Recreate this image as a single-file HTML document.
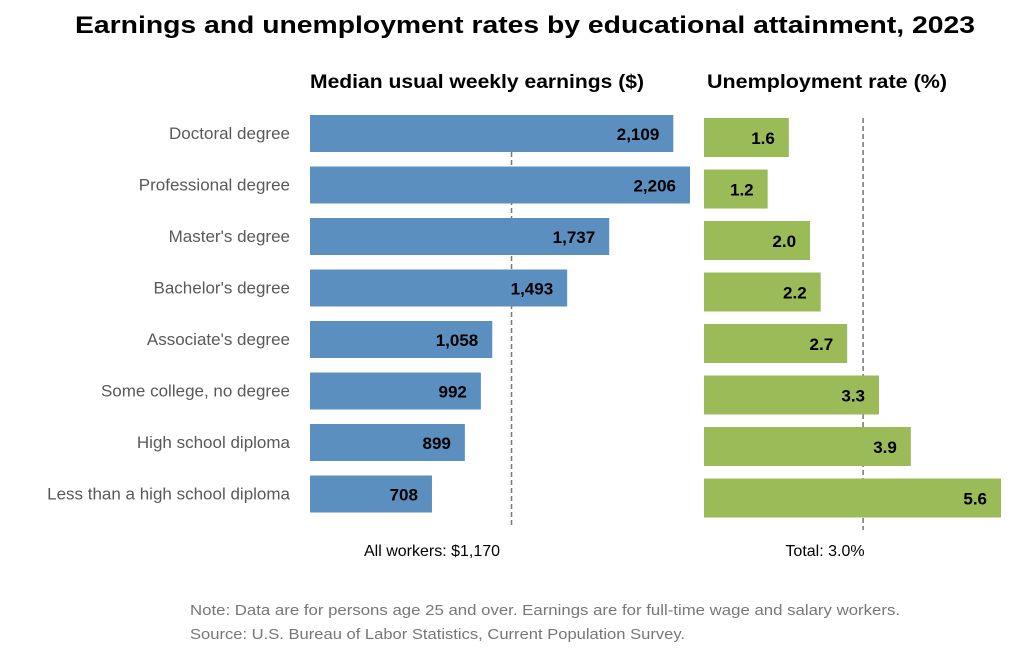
<!DOCTYPE html>
<html><head><meta charset="utf-8"><style>
body{margin:0;background:#fff;}
svg text{font-family:"Liberation Sans",sans-serif;}
</style></head><body>
<svg width="1027" height="645" viewBox="0 0 1027 645" xmlns="http://www.w3.org/2000/svg">
<text x="525" y="33" text-anchor="middle" font-size="24" font-weight="bold" fill="#000" textLength="900" lengthAdjust="spacingAndGlyphs">Earnings and unemployment rates by educational attainment, 2023</text>
<text x="477" y="88" text-anchor="middle" font-size="19" font-weight="bold" textLength="334" lengthAdjust="spacingAndGlyphs">Median usual weekly earnings ($)</text>
<text x="827" y="88" text-anchor="middle" font-size="19" font-weight="bold" textLength="240" lengthAdjust="spacingAndGlyphs">Unemployment rate (%)</text>
<g id="cats"></g><g id="earn"></g><g id="unemp"></g>
<text x="432" y="556" text-anchor="middle" font-size="16" fill="#000">All workers: $1,170</text>
<text x="825" y="556" text-anchor="middle" font-size="16" fill="#000">Total: 3.0%</text>
<text x="190" y="615" font-size="14.5" fill="#777" textLength="710" lengthAdjust="spacingAndGlyphs">Note: Data are for persons age 25 and over. Earnings are for full-time wage and salary workers.</text>
<text x="190" y="639" font-size="14.5" fill="#777" textLength="495" lengthAdjust="spacingAndGlyphs">Source: U.S. Bureau of Labor Statistics, Current Population Survey.</text>
</svg>
<script>
const categories=["Doctoral degree","Professional degree","Master's degree","Bachelor's degree","Associate's degree","Some college, no degree","High school diploma","Less than a high school diploma"];
const earnings=[2109,2206,1737,1493,1058,992,899,708];
const unemployment=[1.6,1.2,2.0,2.2,2.7,3.3,3.9,5.6];
const earningsAll=1170;
const unemploymentTotal=3.0;
const NS="http://www.w3.org/2000/svg";
const xE=v=>310+v*(380/2206);
const xU=v=>704+v*(297/5.6);
const rowY=i=>115+i*51.5;
function mk(tag,attrs,parent){const e=document.createElementNS(NS,tag);for(const k in attrs)e.setAttribute(k,attrs[k]);parent.appendChild(e);return e;}
const gc=document.getElementById('cats'),ge=document.getElementById('earn'),gu=document.getElementById('unemp');
// dashed reference lines
let l1=mk('line',{x1:xE(earningsAll),x2:xE(earningsAll),y1:152,y2:528,stroke:'#777','stroke-width':1.5,'stroke-dasharray':'5,3'},ge);


let l2=mk('line',{x1:xU(unemploymentTotal),x2:xU(unemploymentTotal),y1:118,y2:530,stroke:'#777','stroke-width':1.5,'stroke-dasharray':'5,3'},gu);


categories.forEach((c,i)=>{
  const y=rowY(i);
  let t=mk('text',{x:290,y:y+24,'text-anchor':'end','font-size':17,fill:'#595959'},gc);t.textContent=c;
  
  
  let b=mk('rect',{x:310,y:y,width:xE(earnings[i])-310,height:37,fill:'#5b8fbf'},ge);
  
  
  let v=mk('text',{x:xE(earnings[i])-14,y:y+25,'text-anchor':'end','font-size':17,'font-weight':'bold',fill:'#000'},ge);v.textContent=earnings[i].toLocaleString('en-US');
  
  
  let g=mk('rect',{x:704,y:y+3,width:xU(unemployment[i])-704,height:39,fill:'#9bbb59'},gu);
  
  
  let u=mk('text',{x:xU(unemployment[i])-14,y:y+29,'text-anchor':'end','font-size':17,'font-weight':'bold',fill:'#000'},gu);u.textContent=unemployment[i].toFixed(1);
  
  
});
</script>
</body></html>
